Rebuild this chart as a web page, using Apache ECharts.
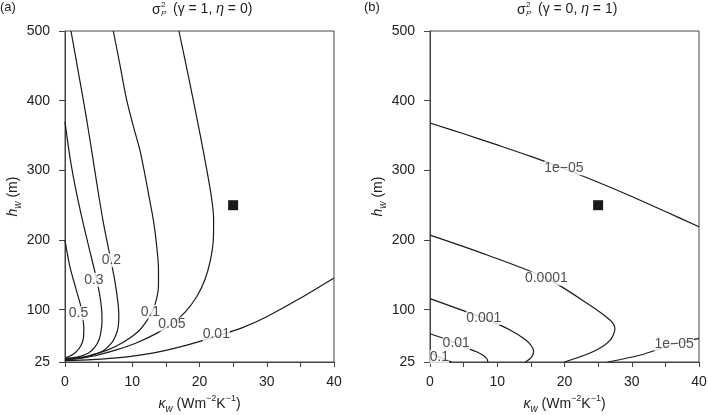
<!DOCTYPE html>
<html>
<head>
<meta charset="utf-8">
<script src="https://cdn.jsdelivr.net/npm/echarts@6/dist/echarts.min.js"></script>
<style>
  html, body { margin: 0; padding: 0; background: #fff; }
  #chart { width: 708px; height: 415px; }
</style>
</head>
<body>
<div id="chart"></div>
<script>
// axis ticks
const kappaTicks = [0, 5, 10, 15, 20, 25, 30, 35, 40];
const kappaLabels = [0, 10, 20, 30, 40];
const hTicks = [25, 100, 200, 300, 400, 500];

// panel (a) contours, [kappa_w, h_w]
const a05 = [[0, 200], [0.7, 163], [1.6, 131], [2.3, 107], [2.65, 88], [2.8, 72], [2.75, 60], [2.4, 49], [1.6, 39], [0.6, 33], [0, 31.5]];
const a03 = [[0, 370], [0.75, 318], [1.7, 268], [2.75, 222], [3.8, 180], [4.6, 148], [5.15, 122], [5.45, 100], [5.5, 85], [5.4, 72], [5.1, 58], [4.5, 47], [3.5, 38], [1.8, 32], [0, 30.5]];
const a02 = [[0.89, 500], [2.0, 440], [3.1, 380], [4.1, 320], [5.0, 265], [5.8, 220], [6.7, 177], [7.4, 142], [7.85, 112], [8.0, 92], [7.9, 75], [7.5, 62], [6.9, 52], [5.5, 40], [2.5, 31], [0, 29.5]];
const a01 = [[7.18, 500], [8.2, 450], [9.17, 401], [10.2, 362], [11.14, 329], [11.9, 293], [12.6, 257], [13.2, 225], [13.65, 190], [13.9, 158], [13.9, 135], [13.6, 115], [13.0, 98], [12.0, 82], [10.8, 68], [8.8, 54], [6.3, 42], [3.5, 34], [1.2, 30], [0, 29]];
const a005 = [[16.94, 500], [18.57, 425], [20.06, 353], [21.1, 300], [21.8, 260], [22.1, 230], [22.05, 200], [21.6, 170], [20.8, 143], [19.6, 119], [17.9, 97], [15.9, 80], [13.4, 65], [10.5, 52], [7.5, 42], [4.5, 34], [1.5, 29.3], [0, 28.5]];
const a001 = [[0, 27], [4, 28.3], [8.5, 31.5], [13.4, 38.5], [18.4, 50], [22.5, 62], [26.3, 74], [30, 90], [34.9, 116], [40, 145.6]];
const aLabels = [[2.0, 95, '0.5'], [4.3, 143, '0.3'], [6.9, 171, '0.2'], [12.7, 97, '0.1'], [15.9, 79, '0.05'], [22.5, 65, '0.01']];

// panel (b) contours
const b1e5u = [[0, 368], [5, 352.5], [10, 336.5], [15, 320], [20, 302], [25, 283], [30, 262.5], [35, 241], [40, 219]];
const b1e4 = [[0, 207], [8.5, 178.5], [17.35, 145], [23.4, 109], [26.8, 85], [27.5, 73], [26.8, 56.5], [24.3, 40], [20, 25]];
const b1e3 = [[0, 116], [4, 102], [8, 88], [11.9, 71], [14.2, 57], [15.1, 48], [15.4, 40], [15.1, 32], [14.2, 25]];
const b1e2 = [[0, 65.5], [2, 59], [3.9, 52], [5.5, 45], [6.84, 40], [8, 34], [8.5, 29], [8.6, 25]];
const b01 = [[0, 38.5], [1.4, 32], [3.2, 25]];
const b1e5l = [[26.4, 25], [31.3, 35], [36.3, 50.8], [40, 59]];
const bLabels = [[19.9, 303, '1e\u221205'], [17.3, 145, '0.0001'], [8.0, 88, '0.001'], [3.9, 52, '0.01'], [1.4, 32, '0.1'], [36.3, 51, '1e\u221205']];

// reference point
const refPoint = [[25, 250]];

const FONT = '"Liberation Sans", Arial, Helvetica, sans-serif';
const INK = '#222';

function xAxis(gridIndex) {
  return {
    type: 'value', gridIndex, min: 0, max: 40, interval: 5,
    name: '{k|\u03ba}{s|w} (Wm{p|\u22122}K{p|\u22121})',
    nameLocation: 'middle', nameGap: 32,
    nameTextStyle: {
      color: INK, fontFamily: FONT, fontSize: 14,
      rich: {
        k: { fontSize: 14, fontStyle: 'italic', lineHeight: 20, fontFamily: FONT, color: INK },
        s: { fontSize: 10, fontStyle: 'italic', lineHeight: 12, verticalAlign: 'bottom', fontFamily: FONT, color: INK },
        p: { fontSize: 9, lineHeight: 11, verticalAlign: 'top', fontFamily: FONT, color: INK }
      }
    },
    axisLine: { show: true, lineStyle: { color: '#444', width: 1 } },
    axisTick: { show: true, length: 5, customValues: kappaTicks, lineStyle: { color: '#444' } },
    axisLabel: { customValues: kappaLabels, color: INK, fontSize: 14, fontFamily: FONT, margin: 13 },
    splitLine: { show: false }
  };
}

function yAxis(gridIndex) {
  return {
    type: 'value', gridIndex, min: 25, max: 500,
    name: '{h|h}{s|w} (m)',
    nameLocation: 'middle', nameGap: 42,
    nameTextStyle: {
      color: INK, fontFamily: FONT, fontSize: 14,
      rich: {
        h: { fontSize: 14, fontStyle: 'italic', lineHeight: 20, fontFamily: FONT, color: INK },
        s: { fontSize: 10, fontStyle: 'italic', lineHeight: 12, verticalAlign: 'bottom', fontFamily: FONT, color: INK }
      }
    },
    axisLine: { show: true, lineStyle: { color: '#444', width: 1 } },
    axisTick: { show: true, length: 6, customValues: hTicks, lineStyle: { color: '#444' } },
    axisLabel: { customValues: hTicks, color: INK, fontSize: 14, fontFamily: FONT, margin: 15 },
    splitLine: { show: false }
  };
}

function contour(data, idx) {
  return {
    type: 'line', xAxisIndex: idx, yAxisIndex: idx, data,
    symbol: 'none', smooth: 0.3, silent: true, z: 2,
    lineStyle: { color: '#1a1a1a', width: 1.2 }
  };
}

function labels(data, idx) {
  return {
    type: 'scatter', xAxisIndex: idx, yAxisIndex: idx, data,
    symbolSize: 1, itemStyle: { color: 'rgba(0,0,0,0)' }, silent: true, z: 5,
    label: {
      show: true, position: 'inside', formatter: p => p.value[2],
      color: INK, fontSize: 14, fontFamily: FONT, backgroundColor: '#fff', padding: [0, 0]
    }
  };
}

function title(x, text) {
  return {
    type: 'group', left: x, top: 1,
    children: [
      { type: 'text', x: 0, y: 1, style: { text: '\u03c3', fontSize: 14, fontFamily: FONT, fill: INK } },
      { type: 'text', x: 9, y: -1, style: { text: '2', fontSize: 8, fontFamily: FONT, fill: INK } },
      { type: 'text', x: 9, y: 8, style: { text: 'P', fontSize: 8, fontStyle: 'italic', fontFamily: FONT, fill: INK } },
      { type: 'text', x: 21, y: 0, style: {
          text: text, fontSize: 14, fontFamily: FONT, fill: INK,
          rich: { i: { fontStyle: 'italic', fontSize: 14, fontFamily: FONT, fill: INK } }
        } }
    ]
  };
}

const chart = echarts.init(document.getElementById('chart'), null, { renderer: 'canvas' });
chart.setOption({
  animation: false,
  backgroundColor: '#fff',
  textStyle: { fontFamily: FONT },
  grid: [
    { left: 65, right: 374, top: 31, bottom: 53, outerBoundsMode: 'none', containLabel: false, show: true, borderColor: '#444', borderWidth: 1 },
    { left: 430, right: 9, top: 31, bottom: 53, outerBoundsMode: 'none', containLabel: false, show: true, borderColor: '#444', borderWidth: 1 }
  ],
  xAxis: [xAxis(0), xAxis(1)],
  yAxis: [yAxis(0), yAxis(1)],
  graphic: [
    { type: 'text', left: 0, top: 1, style: { text: '(a)', fontSize: 13, fontFamily: FONT, fill: INK } },
    { type: 'text', left: 364, top: 1, style: { text: '(b)', fontSize: 13, fontFamily: FONT, fill: INK } },
    title(152, '(\u03b3 = 1, {i|\u03b7} = 0)'),
    title(517, '(\u03b3 = 0, {i|\u03b7} = 1)')
  ],
  series: [
    contour(a05, 0), contour(a03, 0), contour(a02, 0), contour(a01, 0), contour(a005, 0), contour(a001, 0),
    contour(b1e5u, 1), contour(b1e4, 1), contour(b1e3, 1), contour(b1e2, 1), contour(b01, 1), contour(b1e5l, 1),
    labels(aLabels, 0), labels(bLabels, 1),
    { type: 'scatter', xAxisIndex: 0, yAxisIndex: 0, data: refPoint, symbol: 'rect', symbolSize: 10, itemStyle: { color: '#1a1a1a', opacity: 1 }, z: 6 },
    { type: 'scatter', xAxisIndex: 1, yAxisIndex: 1, data: refPoint, symbol: 'rect', symbolSize: 10, itemStyle: { color: '#1a1a1a', opacity: 1 }, z: 6 }
  ]
});
</script>
</body>
</html>
